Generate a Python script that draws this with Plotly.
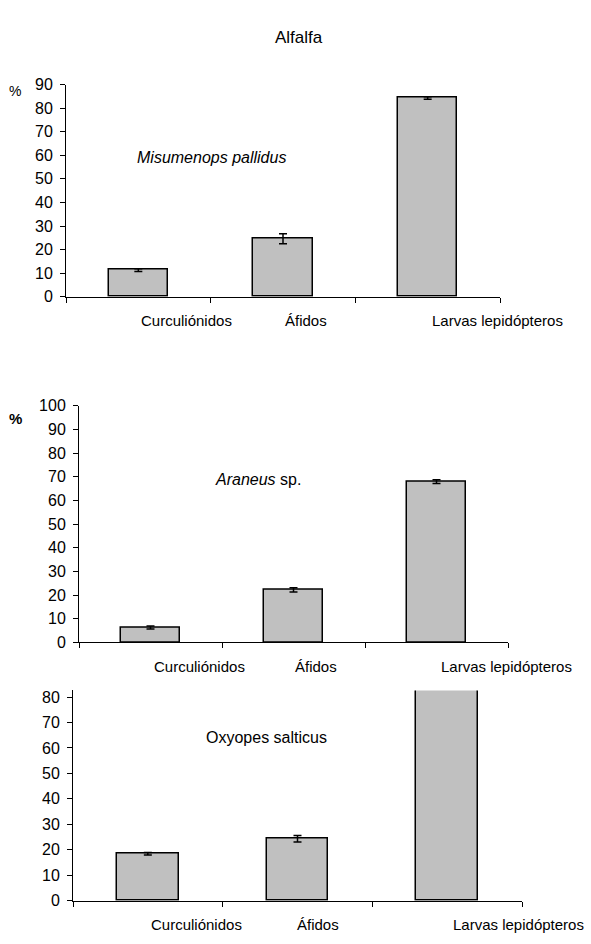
import plotly.graph_objects as go

# ---- data ----
categories = ["Curculiónidos", "Áfidos", "Larvas lepidópteros"]
species = ["<i>Misumenops pallidus</i>", "<i>Araneus</i> sp.", "Oxyopes salticus"]
title_text = "Alfalfa"

misumenops_values = [11.3, 24.6, 84.3]
misumenops_errors = [0.6, 2.1, 0.5]
araneus_values = [6.3, 22.2, 67.9]
araneus_errors = [0.6, 0.9, 0.8]
oxyopes_values = [18.4, 24.3, 86.0]
oxyopes_errors = [0.5, 1.3, 0.0]

y_ranges = [[0, 90], [0, 100], [0, 82.6]]
y_dticks = [10, 10, 10]

# ---- layout geometry (pixels) ----
W, H = 591, 944
panels = [
    dict(x0=66, x1=500, ytop=78, ybot=294),
    dict(x0=79, x1=508, ytop=405, ybot=646),
    dict(x0=73, x1=522, ytop=695, ybot=909),
]
label_pos = [[0.336, 1.159, 2.486], [0.346, 1.157, 2.486], [0.322, 1.137, 2.479]]
species_pos = [(211, 152), (258, 480), (266, 743)]

FONT = "Liberation Sans, Arial, sans-serif"
series = [(misumenops_values, misumenops_errors),
          (araneus_values, araneus_errors),
          (oxyopes_values, oxyopes_errors)]

fig = go.Figure()
annotations = []
for i, (vals, errs) in enumerate(series):
    n = "" if i == 0 else str(i + 1)
    p = panels[i]
    fig.add_trace(go.Bar(
        x=[0, 1, 2], y=vals, width=0.41,
        marker=dict(color="#c0c0c0", line=dict(color="black", width=1.5)),
        error_y=dict(type="data", array=errs, visible=True, color="black",
                     thickness=1.5, width=4),
        xaxis="x" + n, yaxis="y" + n, showlegend=False, hoverinfo="skip",
    ))
    fig.layout["xaxis" + n] = dict(
        domain=[p["x0"] / W, p["x1"] / W], anchor="y" + n,
        range=[-0.5, 2.5], tickvals=[-0.5, 0.5, 1.5, 2.5], showticklabels=False,
        ticks="outside", ticklen=5, tickcolor="black", tickwidth=1,
        showline=True, linecolor="black", linewidth=1, showgrid=False, zeroline=False,
        fixedrange=True,
    )
    fig.layout["yaxis" + n] = dict(
        domain=[1 - p["ybot"] / H, 1 - p["ytop"] / H], anchor="x" + n,
        range=y_ranges[i], dtick=y_dticks[i], tick0=0,
        ticks="outside", ticklen=5, tickcolor="black", tickwidth=1,
        showline=True, linecolor="black", linewidth=1, showgrid=False, zeroline=False,
        tickfont=dict(family=FONT, size=16, color="black"), ticklabelstandoff=4,
        fixedrange=True,
    )
    for j, cat in enumerate(categories):
        annotations.append(dict(
            x=label_pos[i][j], y=0, xref="x" + n, yref="y" + n, yshift=-24,
            text=cat, showarrow=False, xanchor="center", yanchor="middle",
            font=dict(family=FONT, size=15, color="black"),
        ))
    sx, sy = species_pos[i]
    annotations.append(dict(
        x=sx / W, y=1 - sy / H, xref="paper", yref="paper", text=species[i],
        showarrow=False, xanchor="center", yanchor="middle",
        font=dict(family=FONT, size=16, color="black"),
    ))

annotations.append(dict(x=15 / W, y=1 - 85 / H, xref="paper", yref="paper", text="%",
                        showarrow=False, xanchor="center", yanchor="middle",
                        font=dict(family=FONT, size=14, color="black")))
annotations.append(dict(x=15 / W, y=1 - 418 / H, xref="paper", yref="paper", text="<b>%</b>",
                        showarrow=False, xanchor="center", yanchor="middle",
                        font=dict(family=FONT, size=15, color="black")))
annotations.append(dict(x=299 / W, y=1 - 30 / H, xref="paper", yref="paper", text=title_text,
                        showarrow=False, xanchor="center", yanchor="middle",
                        font=dict(family=FONT, size=17, color="black")))

fig.update_layout(
    width=W, height=H, margin=dict(l=0, r=0, t=0, b=0),
    paper_bgcolor="white", plot_bgcolor="white",
    annotations=annotations, bargap=0,
)
fig.write_html("out.html", config={"displayModeBar": False},
               post_script="document.body.style.margin='0';")
